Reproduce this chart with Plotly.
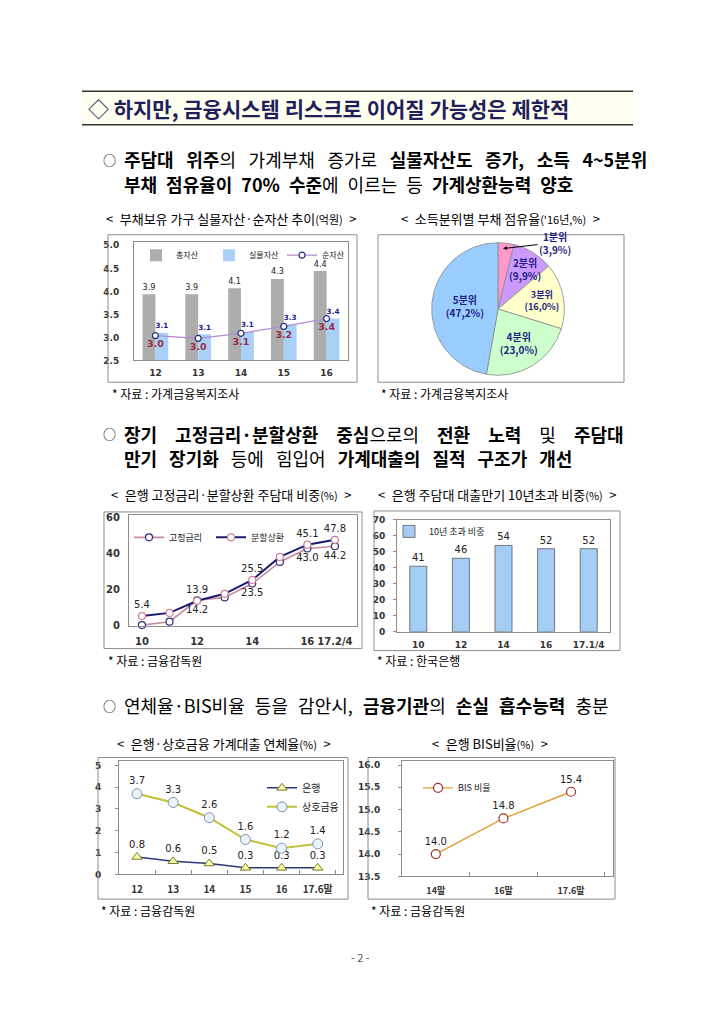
import plotly.graph_objects as go

W, H = 720, 1017
def fx(p): return p / W
def fy(p): return 1 - p / H

KR = "Noto Sans CJK KR"
NUM = "DejaVu Sans"

# ---------------- data ----------------
c1_years = ["12", "13", "14", "15", "16"]
c1_total = [3.94, 3.94, 4.07, 4.27, 4.44]      # 총자산
c1_real = [3.10, 3.07, 3.12, 3.28, 3.41]       # 실물자산
c1_net = [3.04, 2.98, 3.09, 3.24, 3.41]        # 순자산

c2_labels = ["1분위", "2분위", "3분위", "4분위", "5분위"]
c2_values = [3.9, 9.9, 16.0, 23.0, 47.2]

c3_x = ["10", "11", "12", "13", "14", "15", "16", "17.2/4"]
c3_fixed = [0.4, 2.3, 14.2, 15.8, 23.5, 35.5, 43.0, 44.2]     # 고정금리
c3_amort = [5.4, 7.2, 13.9, 17.8, 25.5, 38.3, 45.1, 47.8]     # 분할상환
c3_fixed_lbl = ["", "", "14.2", "", "23.5", "", "43.0", "44.2"]
c3_amort_lbl = ["5.4", "", "13.9", "", "25.5", "", "45.1", "47.8"]
c3_ticks = ["10", "12", "14", "16", "17.2/4"]

c4_x = ["10", "12", "14", "16", "17.1/4"]
c4_vals = [41, 46, 54, 52, 52]

c5_x = ["12", "13", "14", "15", "16", "17.6말"]
c5_bank = [0.8, 0.6, 0.5, 0.3, 0.3, 0.3]
c5_mutual = [3.7, 3.3, 2.6, 1.6, 1.2, 1.4]

c6_x = ["14말", "16말", "17.6말"]
c6_bis = [14.0, 14.8, 15.4]

fig = go.Figure()

def pct(v):
    return f"{v:.1f}%".replace(".", ",")

# ---------------- chart 1 ----------------
fig.add_trace(go.Bar(x=c1_years, y=c1_total, name="총자산", xaxis="x", yaxis="y",
                     marker=dict(color="#adadad", line=dict(width=0)), width=0.3, offset=-0.3,
                     text=[f"{v:.1f}" for v in c1_total], textposition="outside",
                     textfont=dict(family=NUM, size=10, color="#222222"),
                     cliponaxis=False, legend="legend"))
fig.add_trace(go.Bar(x=c1_years, y=c1_real, name="실물자산", xaxis="x", yaxis="y",
                     marker=dict(color="#a9d1f7", line=dict(width=0)), width=0.3, offset=0.0,
                     text=[f"{v:.1f}" for v in c1_real], textposition="outside",
                     textfont=dict(family=NUM, size=10, color="#1a1a90", weight="bold"),
                     cliponaxis=False, legend="legend"))
fig.add_trace(go.Scatter(x=c1_years, y=c1_net, name="순자산", xaxis="x", yaxis="y",
                         mode="lines+markers+text",
                         line=dict(color="#b28ad6", width=1.2),
                         marker=dict(symbol="circle", size=6, color="white",
                                     line=dict(color="#1f2a80", width=1.2)),
                         text=[f"{v:.1f}" for v in c1_net], textposition="bottom center",
                         textfont=dict(family=NUM, size=9.5, color="#9a2b4a", weight="bold"),
                         cliponaxis=False, legend="legend"))

# ---------------- chart 2 (pie) ----------------
# the two thin slices get their labels as annotations (below)
pie_text = ["", ""] + [f"{l}<br>({pct(v)})" for l, v in zip(c2_labels[2:], c2_values[2:])]
fig.add_trace(go.Pie(labels=c2_labels, values=c2_values, sort=False, direction="clockwise",
                     rotation=0, text=pie_text, textinfo="text",
                     textposition=["none", "none", "inside", "inside", "inside"],
                     insidetextorientation="horizontal",
                     insidetextfont=dict(family=KR, size=10, color="#1f1f80", weight="bold"),
                     marker=dict(colors=["#ff99cc", "#cc99ff", "#ffffcc", "#ccffcc", "#99ccff"],
                                 line=dict(color="#8a8a8a", width=0.8)),
                     domain=dict(x=[fx(431), fx(565)], y=[fy(374), fy(240)]),
                     showlegend=False, hoverinfo="skip"))

# ---------------- chart 3 ----------------
fig.add_trace(go.Scatter(x=c3_x, y=c3_fixed, name="고정금리", xaxis="x2", yaxis="y2",
                         mode="lines+markers+text",
                         line=dict(color="#c48ca2", width=1.6),
                         marker=dict(symbol="circle", size=7, color="white",
                                     line=dict(color="#2a2f7a", width=1.2)),
                         text=c3_fixed_lbl, textposition="bottom center",
                         textfont=dict(family=NUM, size=10, color="#222222"),
                         cliponaxis=False, legend="legend2"))
fig.add_trace(go.Scatter(x=c3_x, y=c3_amort, name="분할상환", xaxis="x2", yaxis="y2",
                         mode="lines+markers+text",
                         line=dict(color="#1c1c6e", width=2),
                         marker=dict(symbol="circle", size=7, color="white",
                                     line=dict(color="#d0809a", width=1.2)),
                         text=c3_amort_lbl, textposition="top center",
                         textfont=dict(family=NUM, size=10, color="#222222"),
                         cliponaxis=False, legend="legend2"))

# ---------------- chart 4 ----------------
fig.add_trace(go.Bar(x=c4_x, y=c4_vals, name="10년 초과 비중", xaxis="x3", yaxis="y3",
                     marker=dict(color="#a3cdf5", line=dict(color="#5a5a5a", width=0.8)),
                     width=0.4, text=[str(v) for v in c4_vals], textposition="outside",
                     textfont=dict(family=NUM, size=10, color="#222222"),
                     cliponaxis=False, legend="legend3"))

# ---------------- chart 5 ----------------
fig.add_trace(go.Scatter(x=c5_x, y=c5_bank, name="은행", xaxis="x4", yaxis="y4",
                         mode="lines+markers+text",
                         line=dict(color="#2a3a78", width=1.5),
                         marker=dict(symbol="triangle-up", size=9, color="#ffffb0",
                                     line=dict(color="#7a7a20", width=1)),
                         text=[f"{v:.1f}" for v in c5_bank], textposition="top center",
                         textfont=dict(family=NUM, size=10, color="#222222"),
                         cliponaxis=False, legend="legend4"))
fig.add_trace(go.Scatter(x=c5_x, y=c5_mutual, name="상호금융", xaxis="x4", yaxis="y4",
                         mode="lines+markers+text",
                         line=dict(color="#c2c036", width=2),
                         marker=dict(symbol="circle", size=10, color="#eaf4ff",
                                     line=dict(color="#8090a4", width=1)),
                         text=[f"{v:.1f}" for v in c5_mutual], textposition="top center",
                         textfont=dict(family=NUM, size=10, color="#222222"),
                         cliponaxis=False, legend="legend4"))

# ---------------- chart 6 ----------------
fig.add_trace(go.Scatter(x=c6_x, y=c6_bis, name="BIS 비율", xaxis="x5", yaxis="y5",
                         mode="lines+markers+text",
                         line=dict(color="#e0a030", width=1.4),
                         marker=dict(symbol="circle", size=9, color="white",
                                     line=dict(color="#a0302a", width=1.2)),
                         text=[f"{v:.1f}" for v in c6_bis], textposition="top center",
                         textfont=dict(family=NUM, size=10, color="#222222"),
                         cliponaxis=False, legend="legend5"))

# ---------------- axes ----------------
tickf = dict(family=NUM, size=9, color="#333333", weight="bold")
def ax(**kw):
    d = dict(showgrid=False, zeroline=False, showline=True, mirror=True,
             linecolor="#8c8c8c", linewidth=1, tickfont=tickf, fixedrange=True, ticks="",
             tickangle=0)
    d.update(kw)
    return d

layout = dict(
    width=W, height=H, margin=dict(l=0, r=0, t=0, b=0),
    paper_bgcolor="white", plot_bgcolor="white", barmode="group",
    font=dict(family=KR, color="#000000"),
    xaxis=ax(domain=[fx(134), fx(348)], type="category", range=[-0.5, 4.5], anchor="y",
             ticklabelstandoff=4),
    yaxis=ax(domain=[fy(359), fy(239)], range=[2.5, 5.08], anchor="x",
             tickvals=[2.5, 3.0, 3.5, 4.0, 4.5, 5.0], tickformat=".1f", ticklabelstandoff=12),
    xaxis2=ax(domain=[fx(129), fx(357)], type="category", range=[-0.47, 7.8], anchor="y2",
              tickmode="array", tickvals=c3_ticks, ticklabelstandoff=6,
              tickfont=dict(family=NUM, size=10, color="#333333", weight="bold")),
    yaxis2=ax(domain=[fy(627), fy(515)], range=[0, 61.6], anchor="x2",
              tickvals=[0, 20, 40, 60], ticklabelstandoff=6,
              tickfont=dict(family=NUM, size=10, color="#333333", weight="bold")),
    xaxis3=ax(domain=[fx(397), fx(610)], type="category", range=[-0.5, 4.5], anchor="y3",
              ticklabelstandoff=4),
    yaxis3=ax(domain=[fy(633), fy(520)], range=[0, 70], anchor="x3", dtick=10,
              ticks="outside", ticklen=3, tickcolor="#8c8c8c", ticklabelstandoff=6),
    xaxis4=ax(domain=[fx(119), fx(343)], type="category", range=[-0.5, 5.7], anchor="y4",
              tickson="boundaries", ticks="inside", ticklen=4, tickcolor="#8c8c8c",
              ticklabelstandoff=6,
              tickfont=dict(family=KR, size=10, color="#333333", weight="bold")),
    yaxis4=ax(domain=[fy(878), fy(764)], range=[0, 5.18], anchor="x4", dtick=1,
              ticks="outside", ticklen=3, tickcolor="#8c8c8c", ticklabelstandoff=12),
    xaxis5=ax(domain=[fx(402), fx(613)], type="category", range=[-0.5, 2.62], anchor="y5",
              tickson="boundaries", ticks="inside", ticklen=4, tickcolor="#8c8c8c",
              ticklabelstandoff=6,
              tickfont=dict(family=KR, size=9, color="#333333", weight="bold")),
    yaxis5=ax(domain=[fy(880), fy(764)], range=[13.5, 16.08], anchor="x5",
              tickvals=[13.5, 14.0, 14.5, 15.0, 15.5, 16.0], tickformat=".1f",
              ticks="outside", ticklen=3, tickcolor="#8c8c8c", ticklabelstandoff=16),
)

leg_common = dict(bgcolor="rgba(0,0,0,0)", borderwidth=0,
                  xanchor="left", yanchor="top", itemwidth=30)
layout["legend"] = dict(leg_common, x=fx(136), y=fy(238), orientation="h",
                        font=dict(family=KR, size=8, color="#222222"),
                        entrywidth=28, entrywidthmode="pixels")
layout["legend2"] = dict(leg_common, x=fx(129), y=fy(523), orientation="h",
                         font=dict(family=KR, size=9, color="#222222"),
                         entrywidth=37, entrywidthmode="pixels")
layout["legend3"] = dict(leg_common, x=fx(389), y=fy(517), orientation="h",
                         font=dict(family=KR, size=9, color="#222222"))
layout["legend4"] = dict(leg_common, x=fx(262), y=fy(776), orientation="v",
                         font=dict(family=KR, size=10, color="#222222"))
layout["legend5"] = dict(leg_common, x=fx(418), y=fy(776), orientation="v",
                         font=dict(family=KR, size=9, color="#222222"))

# ---------------- shapes ----------------
shapes = []
shapes.append(dict(type="rect", xref="paper", yref="paper", x0=fx(82), x1=fx(633),
                   y0=fy(121), y1=fy(87), fillcolor="#fffff0", line=dict(width=0), layer="below"))
for yy in (87, 121):
    shapes.append(dict(type="line", xref="paper", yref="paper", x0=fx(82), x1=fx(633),
                       y0=fy(yy), y1=fy(yy), line=dict(color="#333333", width=1.5)))
for (x0, y0, x1, y1) in [(108, 232, 357, 381), (378, 232, 624, 381),
                         (104, 512, 362, 650), (374, 511, 620, 652),
                         (98, 760, 348, 903), (368, 760, 615, 903)]:
    shapes.append(dict(type="rect", xref="paper", yref="paper", x0=fx(x0), x1=fx(x1),
                       y0=fy(y1), y1=fy(y0), line=dict(color="#8c8c8c", width=1),
                       fillcolor="rgba(0,0,0,0)"))
layout["shapes"] = shapes

# ---------------- annotations ----------------
ann = []
def text(x, y, s, size=12, color="#000000", xanchor="left", family=KR, **kw):
    ann.append(dict(x=fx(x), y=fy(y), xref="paper", yref="paper", text=s, showarrow=False,
                    xanchor=xanchor, yanchor="middle",
                    font=dict(family=family, size=size, color=color), **kw))

EN = "\u2002"
EM = "\u2003"
MID = "\u2002\u2006"
EH = "\u2002\u200a"
EN2 = "\u2002\u2009"
text(86, 104, "◇ <b>하지만, 금융시스템 리스크로 이어질 가능성은 제한적</b>", size=21, color="#1f1f5c")

# section 1
text(101, 156, "○", size=13)
S = EN2
text(122, 156, f"<b>주담대{S}위주</b>의{S}가계부채{S}증가로{S}<b>실물자산도{S}증가,{S}소득{S}4~5분위</b>", size=18)
S = EN
text(122, 181, f"<b>부채{S}점유율이{S}70%{S}수준</b>에{S}이르는{S}등{S}<b>가계상환능력{S}양호</b>", size=18)

# section 2
text(101, 433, "○", size=13)
S = EM
text(122, 433, f"<b>장기{S}고정금리·분할상환{S}중심</b>으로의{S}<b>전환{S}노력</b>{S}및{S}<b>주담대</b>", size=18)
S = MID
text(122, 458, f"<b>만기{S}장기화</b>{S}등에{S}힘입어{S}<b>가계대출의{S}질적{S}구조가{S}개선</b>", size=18)

# section 3
text(101, 707, "○", size=13)
S = EH
text(122, 707, f"연체율·BIS비율{S}등을{S}감안시,{S}<b>금융기관</b>의{S}<b>손실{S}흡수능력</b>{S}충분", size=18)

# chart titles
sm = "<span style='font-size:11px'>"
text(231, 216, f"<{EN}부채보유 가구 실물자산·순자산 추이{sm}(억원)</span>{EN}>", size=13, xanchor="center")
text(500, 216, f"<{EN}소득분위별 부채 점유율{sm}('16년,%)</span>{EN}>", size=13, xanchor="center")
text(231, 494, f"<{EN}은행 고정금리·분할상환 주담대 비중{sm}(%)</span>{EN}>", size=13, xanchor="center")
text(497, 494, f"<{EN}은행 주담대 대출만기 10년초과 비중{sm}(%)</span>{EN}>", size=13, xanchor="center")
text(224, 746, f"<{EN}은행·상호금융 가계대출 연체율{sm}(%)</span>{EN}>", size=13, xanchor="center")
text(490, 746, f"<{EN}은행 BIS비율{sm}(%)</span>{EN}>", size=13, xanchor="center")

# sources
text(110, 392, "* 자료 : 가계금융복지조사", size=12)
text(379, 392, "* 자료 : 가계금융복지조사", size=12)
text(106, 662, "* 자료 : 금융감독원", size=12)
text(375, 662, "* 자료 : 한국은행", size=12)
text(99, 914, "* 자료 : 금융감독원", size=12)
text(369, 914, "* 자료 : 금융감독원", size=12)

# page number
text(360, 961, "- 2 -", size=11, color="#555555", xanchor="center")

# pie labels for the two thin slices
ann.append(dict(x=fx(503), y=fy(246), xref="paper", yref="paper",
                text=f"<b>{c2_labels[0]}<br>({pct(c2_values[0])})</b>",
                showarrow=True, ax=52, ay=-6, arrowhead=2, arrowsize=0.8, arrowwidth=1,
                arrowcolor="#000000", font=dict(family=KR, size=10, color="#1f1f80")))
text(525, 267, f"<b>{c2_labels[1]}<br>({pct(c2_values[1])})</b>", size=10,
     color="#1f1f80", xanchor="center")
layout["annotations"] = ann

fig.update_layout(**layout)
fig.write_html("out.html", config={"displayModeBar": False},
               post_script="document.body.style.margin='0';document.body.style.padding='0';")
